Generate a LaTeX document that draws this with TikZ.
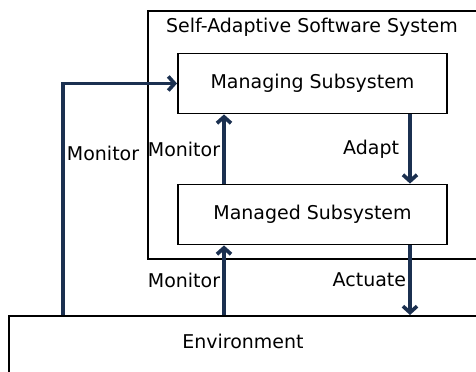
\documentclass[tikz,border=0pt]{standalone}
\usepackage{fontspec}
\setmainfont{DejaVu Sans}
\usetikzlibrary{arrows.meta}
\definecolor{arrowblue}{HTML}{1B3050}
\tikzstyle{sysbox} = [rectangle, draw, line width=1.3pt, anchor=north west, minimum width=8.25cm, minimum height=6.2cm]
\tikzstyle{subbox} = [rectangle, draw, line width=1.3pt, text centered, minimum width=6.725cm, minimum height=1.5cm]
\tikzstyle{envbox} = [rectangle, draw, line width=1.3pt, anchor=north west, minimum width=11.75cm, minimum height=2.5cm]
\tikzstyle{line} = [draw, arrowblue, line width=2.6pt, -{Straight Barb[length=4.5pt, width=10pt]}]
\tikzstyle{lbl} = [text=black, inner sep=1.5pt]

\begin{document}
\begin{tikzpicture}[x=0.025cm, y=-0.025cm, font=\fontsize{13.5}{16}\selectfont]
    \useasboundingbox (0,0) rectangle (476,372);
    \clip (0,0) rectangle (476,372);

    \node[sysbox](system) at (147,10) {};
    \node(systitle) at (312,27) {Self-Adaptive Software System};
    \node[subbox](managing) at (312.5,83.5) {Managing Subsystem};
    \node[subbox](managed) at (312.5,214.5) {Managed Subsystem};
    \node[envbox](env) at (8,315) {};
    \node(envtitle) at (243,341) {Environment};

    \coordinate (leftx) at (63,0);
    \coordinate (monx) at (224,0);
    \coordinate (actx) at (410,0);

    \path[line] (env.north -| leftx) |- node[lbl, pos=0.35, right] {Monitor} (managing.west);
    \path[line] (managed.north -| monx) -- node[lbl, left] {Monitor} (managing.south -| monx);
    \path[line] (managing.south -| actx) -- node[lbl, left, xshift=-5pt] {Adapt} (managed.north -| actx);
    \path[line] (env.north -| monx) -- node[lbl, left] {Monitor} (managed.south -| monx);
    \path[line] (managed.south -| actx) -- node[lbl, left] {Actuate} (env.north -| actx);
\end{tikzpicture}
\end{document}
